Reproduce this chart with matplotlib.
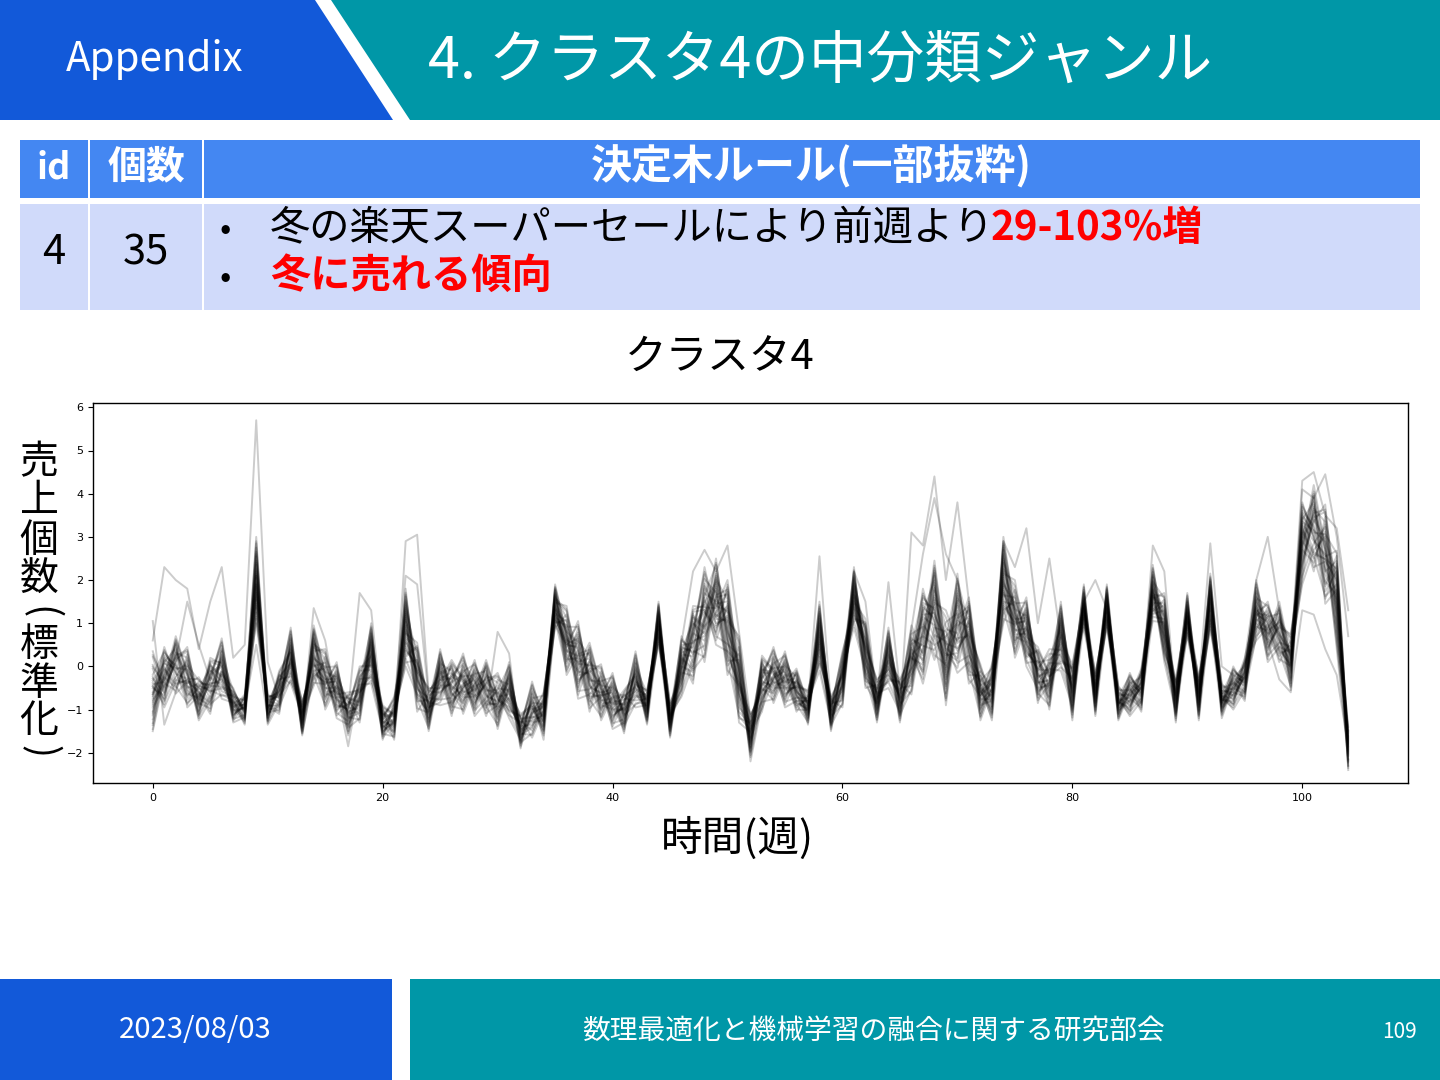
import matplotlib
matplotlib.use("Agg")
import matplotlib.pyplot as plt
from matplotlib.patches import Polygon, Rectangle
import numpy as np

JP = ['Noto Sans CJK JP', 'DejaVu Sans']

# --- chart data ---
weeks = list(range(105))

# dark core of the 35 curves, per week
center = [
    -0.55, -0.25, 0.0, -0.25, -0.75, -0.45, -0.05, -0.9, -1.0, 2.0,
    -1.0, -0.6, 0.25, -1.2, 0.25, -0.3, -0.55, -1.1, -0.65, 0.3,
    -1.3, -1.2, 0.9, -0.25, -1.0, -0.25, -0.5, -0.4, -0.5, -0.5,
    -0.8, -0.55, -1.5, -1.0, -1.1, 1.4, 0.6, 0.15, -0.25, -0.6,
    -0.8, -1.05, -0.3, -0.95, 1.0, -1.25, 0.0, 0.5, 1.2, 1.5,
    0.9, -0.3, -1.6, -0.4, -0.2, -0.3, -0.55, -0.95, 0.7, -1.1,
    -0.3, 1.6, 0.3, -0.8, 0.2, -0.8, 0.15, 0.7, 1.3, 0.2,
    1.0, 0.6, -0.6, -0.6, 2.0, 1.1, 0.8, -0.2, -0.3, 0.7,
    -0.6, 1.4, -0.65, 1.4, -0.85, -0.65, -0.55, 1.7, 0.9, -0.8,
    1.2, -0.75, 1.5, -0.8, -0.5, -0.3, 1.3, 0.8, 0.8, 0.1,
    2.9, 3.2, 2.6, 1.6, -1.9,
]

# half width of the visible band, per week
spread = [
    0.9, 0.7, 0.7, 0.7, 0.5, 0.65, 0.7, 0.4, 0.35, 1.0,
    0.35, 0.5, 0.65, 0.4, 0.7, 0.7, 0.65, 0.5, 0.65, 0.7,
    0.4, 0.5, 0.9, 0.8, 0.5, 0.65, 0.65, 0.7, 0.65, 0.65,
    0.65, 0.65, 0.4, 0.65, 0.5, 0.5, 0.8, 0.9, 0.8, 0.65,
    0.65, 0.5, 0.65, 0.4, 0.5, 0.4, 0.7, 0.9, 1.1, 1.0,
    1.1, 1.0, 0.5, 0.65, 0.65, 0.65, 0.5, 0.4, 0.8, 0.4,
    0.65, 0.7, 0.8, 0.5, 0.7, 0.5, 0.8, 1.1, 1.15, 1.1,
    1.15, 1.0, 0.65, 0.65, 1.0, 0.9, 0.8, 0.65, 0.7, 0.8,
    0.65, 0.5, 0.5, 0.5, 0.4, 0.5, 0.5, 0.65, 0.8, 0.5,
    0.5, 0.5, 0.65, 0.4, 0.5, 0.5, 0.7, 0.7, 0.7, 0.65,
    1.0, 1.0, 1.15, 1.2, 0.5,
]

# where each of the 35 items sits inside the band (three alternating week groups)
pos_a = [0.0, 0.3, -0.3, 0.6, -0.6, 0.1, -0.1, 0.9, -0.9, 0.2, -0.2, 0.45,
         -0.45, 0.75, -0.75, 0.05, -0.05, 1.0, -1.0, 0.35, -0.35, 0.15, -0.15,
         0.55, -0.55, 0.25, -0.25, 0.85, -0.85, 0.4, -0.4, 0.65, -0.65, 0.1, -0.1]
pos_b = [0.4, -0.5, 0.1, -0.2, 0.8, -0.9, 0.3, -0.1, 0.6, -0.7, 1.0, 0.0,
         -0.3, 0.2, 0.5, -0.6, 0.9, -0.4, 0.15, -1.0, 0.7, -0.15, 0.35, -0.8,
         0.05, 0.45, -0.25, -0.55, 0.25, 0.85, -0.05, -0.35, 0.65, -0.75, 0.55]
pos_c = [-0.3, 0.2, 0.7, -0.8, 0.0, 0.5, -0.6, 0.35, -0.15, 0.9, -0.45, -0.7,
         0.1, -1.0, 0.6, 0.4, -0.25, 0.15, 0.8, -0.5, 0.05, 1.0, -0.9, -0.35,
         0.3, -0.05, 0.75, 0.25, -0.65, -0.1, 0.55, 0.45, -0.2, 0.85, -0.55]

# curves that leave the band
outliers = {
    0: {0: 0.6, 1: 2.3, 2: 2.0, 3: 1.8, 4: 0.4, 5: 1.5, 6: 2.3, 7: 0.2,
        8: 0.5, 9: 5.7, 10: 0.1},
    1: {3: 1.5, 4: 0.5, 9: 0.5, 14: 1.35, 15: 0.6, 18: 1.7, 19: 1.3},
    2: {22: 2.9, 23: 3.05, 24: -0.6},
    3: {22: 2.1, 23: 1.9, 30: 0.8, 31: 0.3},
    4: {47: 2.2, 48: 2.7, 49: 2.2, 50: 2.8, 51: 0.8},
    5: {58: 2.55, 61: 2.2, 62: 1.5, 64: 1.95},
    6: {66: 3.1, 67: 2.8, 68: 4.4, 69: 2.0, 70: 3.8, 71: 1.5},
    7: {67: 2.6, 68: 3.9, 69: 2.6, 70: 2.0, 74: 2.9, 75: 2.3, 76: 3.2,
        77: 1.0, 78: 2.5},
    8: {81: 1.5, 82: 2.0, 87: 2.8, 88: 2.2, 92: 2.85, 93: 0.0},
    9: {96: 2.0, 97: 3.0, 98: 1.3, 100: 4.3, 101: 4.5, 102: 3.5, 103: 3.2,
        104: 1.3},
    10: {100: 4.1, 101: 3.9, 102: 4.45, 103: 3.0, 104: 0.7},
    11: {0: -1.5, 13: -1.55, 17: -1.85, 34: -1.7, 52: -2.2, 104: -2.3},
    12: {98: -0.3, 99: -0.6, 100: 1.3, 101: 1.2, 102: 0.4, 103: -0.2},
    13: {0: 1.05, 1: -1.35, 2: -0.6},
}

n_items = 35

fig = plt.figure(figsize=(14.4, 10.8), dpi=100)

# slide background layer in pixel coordinates
bg = fig.add_axes([0, 0, 1, 1])
bg.set_xlim(0, 1440)
bg.set_ylim(1080, 0)
bg.axis('off')

blue = '#1259D9'
teal = '#0097A7'
bg.add_patch(Polygon([[0, 0], [315, 0], [393, 120], [0, 120]], color=blue, lw=0))
bg.add_patch(Polygon([[331, 0], [1440, 0], [1440, 120], [410, 120]], color=teal, lw=0))
bg.text(155, 60, 'Appendix', color='white', fontsize=29, ha='center', va='center', family=JP)
bg.text(428, 62, '4. クラスタ4の中分類ジャンル', color='white', fontsize=41.5,
        ha='left', va='center', family=JP)

# table
head_c = '#4487F2'
body_c = '#D0DAFA'
cols = [(20, 88), (90, 202), (204, 1420)]
for x0, x1 in cols:
    bg.add_patch(Rectangle((x0, 140), x1 - x0, 58, color=head_c, lw=0))
    bg.add_patch(Rectangle((x0, 204), x1 - x0, 106, color=body_c, lw=0))
bg.text(54, 168, 'id', color='white', fontsize=26, weight='bold', ha='center', va='center', family=JP)
bg.text(146, 167, '個数', color='white', fontsize=28, weight='bold', ha='center', va='center', family=JP)
bg.text(811, 167, '決定木ルール(一部抜粋)', color='white', fontsize=29.5, weight='bold',
        ha='center', va='center', family=JP)
bg.text(54, 253, '4', fontsize=30, ha='center', va='center', family=JP)
bg.text(146, 253, '35', fontsize=30, ha='center', va='center', family=JP)
bg.text(225, 229, '•', fontsize=24, ha='center', va='center', family=JP)
bg.text(225, 278, '•', fontsize=24, ha='center', va='center', family=JP)
bg.text(270, 229, '冬の楽天スーパーセールにより前週より', fontsize=29, ha='left', va='center', family=JP)
bg.text(991, 229, '29-103%増', fontsize=29, color='#FF0000', weight='bold',
        ha='left', va='center', family=JP)
bg.text(270, 276, '冬に売れる傾向', fontsize=29, color='#FF0000', weight='bold',
        ha='left', va='center', family=JP)

# footer
bg.add_patch(Rectangle((0, 979), 392, 101, color=blue, lw=0))
bg.add_patch(Rectangle((410, 979), 1030, 101, color=teal, lw=0))
bg.text(195, 1030, '2023/08/03', color='white', fontsize=21, ha='center', va='center', family=JP)
bg.text(873, 1031, '数理最適化と機械学習の融合に関する研究部会', color='white', fontsize=20,
        ha='center', va='center', family=JP)
bg.text(1400, 1032, '109', color='white', fontsize=15, ha='center', va='center', family=JP)

# chart titles
bg.text(720, 358, 'クラスタ4', fontsize=30, ha='center', va='center', family=JP)
bg.text(737, 838, '時間(週)', fontsize=30, ha='center', va='center', family=JP)
ylab = [('売', 462), ('上', 501), ('個', 541), ('数', 580), ('(', 613),
        ('標', 645), ('準', 684), ('化', 721), (')', 752)]
for ch, yy in ylab:
    rot = -90 if ch in '()' else 0
    bg.text(39, yy, ch, fontsize=28, ha='center', va='center', rotation=rot, family=JP)

# the chart itself
ax = fig.add_axes([93 / 1440, 1 - 783 / 1080, (1408 - 93) / 1440, (783 - 403) / 1080])
c = np.array(center)
s = np.array(spread)
groups = np.array(weeks) % 3
for i in range(n_items):
    p = np.choose(groups, [pos_a[i], pos_b[i], pos_c[i]])
    y = c + s * p
    for w, v in outliers.get(i, {}).items():
        y[w] = v
    ax.plot(weeks, y, color='black', alpha=0.2, lw=1.4)

ax.set_xlim(-5.2, 109.2)
ax.set_ylim(-2.7, 6.1)
ax.set_xticks([0, 20, 40, 60, 80, 100])
ax.set_yticks(range(-2, 7))
ax.tick_params(labelsize=8, length=3.5, width=0.8)
for sp in ax.spines.values():
    sp.set_linewidth(1.0)

fig.savefig('out.png', dpi=100)
